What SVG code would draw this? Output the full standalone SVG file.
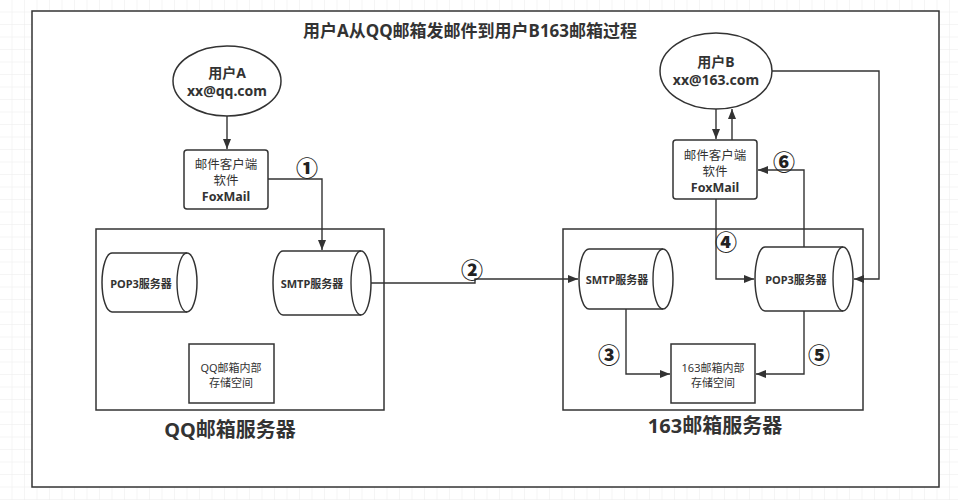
<svg xmlns="http://www.w3.org/2000/svg" width="958" height="500" viewBox="0 0 958 500">
<defs>
<pattern id="grid" width="12.5" height="12.5" patternUnits="userSpaceOnUse">
<path d="M12.5 0 V12.5 M0 12.5 H12.5" fill="none" stroke="#ebebeb" stroke-width="1"/>
</pattern>
<marker id="arr" viewBox="0 0 10 10" refX="10" refY="5" markerWidth="10" markerHeight="10" markerUnits="userSpaceOnUse" orient="auto">
<path d="M0 1 L10 5 L0 9 Z" fill="#333"/>
</marker>
<style>
.box{fill:#fff;stroke:#333;stroke-width:1.5}
.con{fill:none;stroke:#333;stroke-width:1.4}
.t{font-family:"Noto Sans","Noto Sans CJK SC",sans-serif;fill:#333;text-anchor:middle;dominant-baseline:central}
.b{font-weight:bold}
.num{font-family:"Noto Sans CJK SC",sans-serif;font-size:22px;font-weight:900;fill:#222;text-anchor:middle;dominant-baseline:central}
</style>
</defs>
<rect width="958" height="500" fill="#fff"/>
<rect width="958" height="500" fill="url(#grid)"/>
<rect id="frame" x="32" y="11" width="907" height="476" fill="#fff" stroke="#333" stroke-width="1.5"/>
<text class="t b" x="470" y="30" font-size="17">用户A从QQ邮箱发邮件到用户B163邮箱过程</text>

<g id="qq-server">
<rect class="box" x="96" y="229" width="288" height="181"/>
<text class="t b" x="230" y="429" font-size="20">QQ邮箱服务器</text>
</g>
<g id="163-server">
<rect class="box" x="563" y="229" width="300" height="181"/>
<text class="t b" x="715" y="425" font-size="20">163邮箱服务器</text>
</g>

<g id="userA">
<ellipse class="box" cx="227" cy="81" rx="54" ry="35"/>
<text class="t b" x="227" y="72" font-size="14">用户A</text>
<text class="t b" x="227" y="90" font-size="14">xx@qq.com</text>
</g>
<g id="clientA">
<rect class="box" x="184" y="150" width="84" height="59" rx="3"/>
<text class="t" x="226" y="164" font-size="12.5">邮件客户端</text>
<text class="t" x="226" y="180" font-size="12.5">软件</text>
<text class="t b" x="226" y="196" font-size="12.5">FoxMail</text>
</g>
<g id="pop3A">
<path class="box" d="M112 253 H187 A10 29.5 0 0 1 187 312 H112 A10 29.5 0 0 1 112 253 Z"/>
<path class="con" d="M187 253 A10 29.5 0 0 0 187 312"/>
<text class="t b" x="141" y="283" font-size="11">POP3服务器</text>
</g>
<g id="smtpA">
<path class="box" d="M283 251 H361 A10 32 0 0 1 361 315 H283 A10 32 0 0 1 283 251 Z"/>
<path class="con" d="M361 251 A10 32 0 0 0 361 315"/>
<text class="t b" x="312" y="283" font-size="11">SMTP服务器</text>
</g>
<g id="storeA">
<rect class="box" x="189" y="344" width="85" height="59"/>
<text class="t" x="231" y="367" font-size="11">QQ邮箱内部</text>
<text class="t" x="231" y="382" font-size="11">存储空间</text>
</g>

<g id="userB">
<ellipse class="box" cx="716" cy="71" rx="56" ry="38"/>
<text class="t b" x="716" y="61.5" font-size="14">用户B</text>
<text class="t b" x="716" y="79.5" font-size="14">xx@163.com</text>
</g>
<g id="clientB">
<rect class="box" x="673" y="140" width="84" height="59" rx="3"/>
<text class="t" x="715" y="155" font-size="12.5">邮件客户端</text>
<text class="t" x="715" y="171" font-size="12.5">软件</text>
<text class="t b" x="715" y="187" font-size="12.5">FoxMail</text>
</g>
<g id="smtpB">
<path class="box" d="M589 249 H663 A10 30 0 0 1 663 309 H589 A10 30 0 0 1 589 249 Z"/>
<path class="con" d="M663 249 A10 30 0 0 0 663 309"/>
<text class="t b" x="617" y="279" font-size="11">SMTP服务器</text>
</g>
<g id="pop3B">
<path class="box" d="M765 247 H843 A10 32 0 0 1 843 311 H765 A10 32 0 0 1 765 247 Z"/>
<path class="con" d="M843 247 A10 32 0 0 0 843 311"/>
<text class="t b" x="796" y="279" font-size="11">POP3服务器</text>
</g>
<g id="storeB">
<rect class="box" x="671" y="344" width="84" height="59"/>
<text class="t" x="713" y="367" font-size="11">163邮箱内部</text>
<text class="t" x="713" y="382" font-size="11">存储空间</text>
</g>

<g id="connectors">
<path class="con" d="M227 116 V149" marker-end="url(#arr)"/>
<path class="con" d="M268 179 H322 V250" marker-end="url(#arr)"/>
<path class="con" d="M371 283 H475 V279 H578" marker-end="url(#arr)"/>
<path class="con" d="M626 309 V374 H670" marker-end="url(#arr)"/>
<path class="con" d="M804 311 V374 H756" marker-end="url(#arr)"/>
<path class="con" d="M716 199 V279 H754" marker-end="url(#arr)"/>
<path class="con" d="M804 247 V170 H758" marker-end="url(#arr)"/>
<path class="con" d="M716 109 V139" marker-end="url(#arr)"/>
<path class="con" d="M732 140 V109" marker-end="url(#arr)"/>
<path class="con" d="M772 71 H879 V279 H854" marker-end="url(#arr)"/>
</g>
<g id="labels">
<text class="num" x="307" y="166">①</text>
<text class="num" x="472" y="268">②</text>
<text class="num" x="609" y="353">③</text>
<text class="num" x="726" y="240">④</text>
<text class="num" x="819" y="353">⑤</text>
<text class="num" x="784" y="160">⑥</text>
</g>
</svg>
